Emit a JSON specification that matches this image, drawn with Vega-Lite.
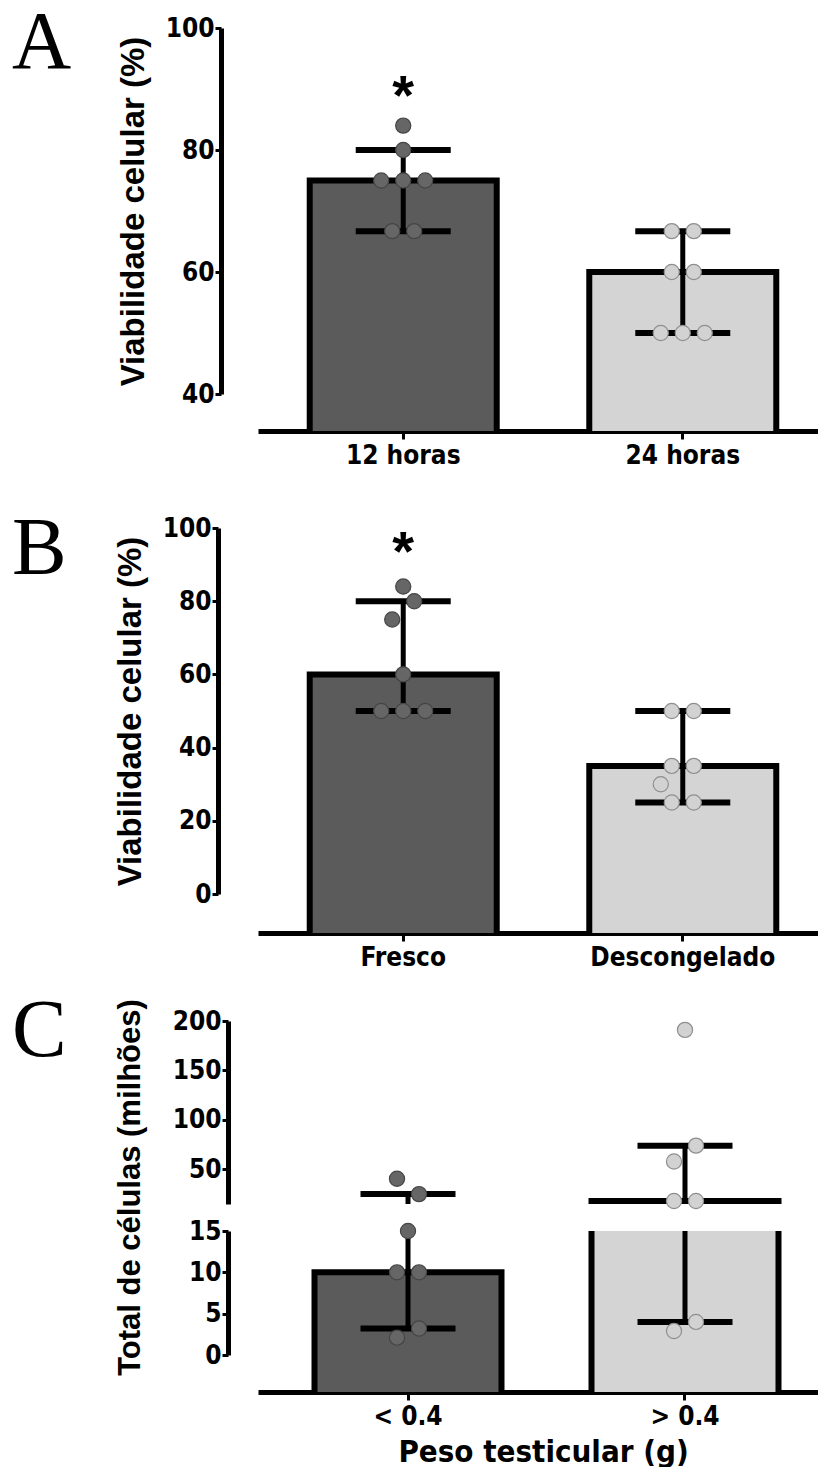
{
  "$schema": "https://vega.github.io/schema/vega-lite/v6.json",
  "background": "white",
  "padding": {"left": 12, "top": 2, "right": 0, "bottom": 0},
  "datasets": {
    "barsA": [
      {"group": "12 horas", "mean": 75, "lo": 66.7, "hi": 80},
      {"group": "24 horas", "mean": 60, "lo": 50, "hi": 66.7}
    ],
    "ptsA": [
      {"group": "12 horas", "value": 84, "slot": 0},
      {"group": "12 horas", "value": 80, "slot": 0},
      {"group": "12 horas", "value": 75, "slot": -1},
      {"group": "12 horas", "value": 75, "slot": 0},
      {"group": "12 horas", "value": 75, "slot": 1},
      {"group": "12 horas", "value": 66.7, "slot": -0.5},
      {"group": "12 horas", "value": 66.7, "slot": 0.5},
      {"group": "24 horas", "value": 66.7, "slot": -0.5},
      {"group": "24 horas", "value": 66.7, "slot": 0.5},
      {"group": "24 horas", "value": 60, "slot": -0.5},
      {"group": "24 horas", "value": 60, "slot": 0.5},
      {"group": "24 horas", "value": 50, "slot": -1},
      {"group": "24 horas", "value": 50, "slot": 0},
      {"group": "24 horas", "value": 50, "slot": 1}
    ],
    "starsA": [{"group": "12 horas", "value": 91, "label": "*"}],
    "barsB": [
      {"group": "Fresco", "mean": 60, "lo": 50, "hi": 80},
      {"group": "Descongelado", "mean": 35, "lo": 25, "hi": 50}
    ],
    "ptsB": [
      {"group": "Fresco", "value": 84, "slot": 0},
      {"group": "Fresco", "value": 80, "slot": 0.5},
      {"group": "Fresco", "value": 75, "slot": -0.5},
      {"group": "Fresco", "value": 60, "slot": 0},
      {"group": "Fresco", "value": 50, "slot": -1},
      {"group": "Fresco", "value": 50, "slot": 0},
      {"group": "Fresco", "value": 50, "slot": 1},
      {"group": "Descongelado", "value": 50, "slot": -0.5},
      {"group": "Descongelado", "value": 50, "slot": 0.5},
      {"group": "Descongelado", "value": 35, "slot": -0.5},
      {"group": "Descongelado", "value": 35, "slot": 0.5},
      {"group": "Descongelado", "value": 30, "slot": -1},
      {"group": "Descongelado", "value": 25, "slot": -0.5},
      {"group": "Descongelado", "value": 25, "slot": 0.5}
    ],
    "starsB": [{"group": "Fresco", "value": 97, "label": "*"}],
    "barsC": [
      {"group": "< 0.4", "mean": 10, "lo": 3.2, "hi": 25},
      {"group": "> 0.4", "mean": 18, "lo": 4, "hi": 74}
    ],
    "ptsC": [
      {"group": "< 0.4", "value": 40.5, "slot": -0.5},
      {"group": "< 0.4", "value": 25, "slot": 0.5},
      {"group": "< 0.4", "value": 15, "slot": 0},
      {"group": "< 0.4", "value": 10, "slot": -0.5},
      {"group": "< 0.4", "value": 10, "slot": 0.5},
      {"group": "< 0.4", "value": 3.2, "slot": 0.5},
      {"group": "< 0.4", "value": 2.1, "slot": -0.5},
      {"group": "> 0.4", "value": 191, "slot": 0},
      {"group": "> 0.4", "value": 74, "slot": 0.5},
      {"group": "> 0.4", "value": 58, "slot": -0.5},
      {"group": "> 0.4", "value": 18, "slot": -0.5},
      {"group": "> 0.4", "value": 18, "slot": 0.5},
      {"group": "> 0.4", "value": 4, "slot": 0.5},
      {"group": "> 0.4", "value": 2.9, "slot": -0.5}
    ]
  },
  "config": {
    "view": {"stroke": null},
    "axis": {
      "grid": false,
      "domainColor": "black",
      "tickColor": "black",
      "labelColor": "black",
      "titleColor": "black",
      "labelFont": "DejaVu Sans Condensed, Liberation Sans, sans-serif",
      "labelFontSize": 26,
      "labelFontWeight": "bold",
      "labelLimit": 400,
      "titleFont": "Liberation Sans, sans-serif",
      "titleFontWeight": "bold",
      "titleFontSize": 33,
      "titleLimit": 600
    },
    "axisY": {"domainWidth": 5, "tickWidth": 3, "tickSize": 6, "labelPadding": 1, "titlePadding": 15},
    "axisX": {"domainWidth": 5, "tickWidth": 3, "tickSize": 8, "labelPadding": 3, "labelAngle": 0},
    "title": {"font": "Liberation Serif, serif", "fontSize": 82, "fontWeight": "normal", "color": "black", "anchor": "start", "frame": "group", "baseline": "alphabetic", "offset": 0, "dx": -246}
  },
  "vconcat": [
    {
      "width": 570,
      "height": 403,
      "title": {"text": "A", "dy": 74},
      "layer": [
        {
          "data": {"name": "barsA"},
          "mark": {"type": "bar", "stroke": "black", "strokeWidth": 6, "clip": true, "width": 187},
          "encoding": {
            "x": {"field": "group", "type": "nominal", "sort": null, "scale": {"paddingInner": 0.331, "paddingOuter": 0.185, "align": 0.5}, "axis": {"title": null}},
            "y": {"field": "mean", "type": "quantitative", "scale": {"domain": [40, 100], "range": [366, 0], "nice": false, "zero": false}, "axis": {"values": [40, 60, 80, 100], "title": "Viabilidade celular (%)", "offset": 37}},
            "y2": {"datum": 30},
            "fill": {"field": "group", "type": "nominal", "sort": null, "scale": {"range": ["#5b5b5b", "#d4d4d4"]}, "legend": null}
          }
        },
        {
          "data": {"name": "barsA"},
          "mark": {"type": "rule", "strokeWidth": 5, "color": "black", "clip": true},
          "encoding": {"x": {"field": "group", "type": "nominal", "sort": null}, "y": {"field": "lo", "type": "quantitative"}, "y2": {"field": "hi"}}
        },
        {
          "data": {"name": "barsA"},
          "mark": {"type": "tick", "size": 95, "thickness": 6, "color": "black", "opacity": 1, "clip": true},
          "encoding": {"x": {"field": "group", "type": "nominal", "sort": null}, "y": {"field": "lo", "type": "quantitative"}}
        },
        {
          "data": {"name": "barsA"},
          "mark": {"type": "tick", "size": 95, "thickness": 6, "color": "black", "opacity": 1, "clip": true},
          "encoding": {"x": {"field": "group", "type": "nominal", "sort": null}, "y": {"field": "hi", "type": "quantitative"}}
        },
        {
          "data": {"name": "ptsA"},
          "mark": {"type": "circle", "size": 230, "opacity": 1, "strokeWidth": 1.2},
          "encoding": {
            "x": {"field": "group", "type": "nominal", "sort": null},
            "xOffset": {"field": "slot", "type": "quantitative", "scale": {"domain": [-4.25, 4.25]}},
            "y": {"field": "value", "type": "quantitative"},
            "color": {"field": "group", "type": "nominal", "sort": null, "scale": {"range": ["#666666", "#d2d2d2"]}, "legend": null},
            "stroke": {"field": "group", "type": "nominal", "sort": null, "scale": {"range": ["#454545", "#8e8e8e"]}, "legend": null}
          }
        },
        {
          "data": {"name": "starsA"},
          "mark": {"type": "text", "fontSize": 56, "fontWeight": "bold", "font": "Liberation Sans, sans-serif", "baseline": "middle", "dy": 14, "color": "black"},
          "encoding": {"x": {"field": "group", "type": "nominal", "sort": null}, "y": {"field": "value", "type": "quantitative"}, "text": {"field": "label"}}
        }
      ]
    },
    {
      "width": 570,
      "height": 475,
      "title": {"text": "B", "dy": 137},
      "layer": [
        {
          "data": {"name": "barsB"},
          "mark": {"type": "bar", "stroke": "black", "strokeWidth": 6, "clip": true, "width": 187},
          "encoding": {
            "x": {"field": "group", "type": "nominal", "sort": null, "scale": {"paddingInner": 0.331, "paddingOuter": 0.185, "align": 0.5}, "axis": {"title": null}},
            "y": {"field": "mean", "type": "quantitative", "scale": {"domain": [0, 100], "range": [436, 70], "nice": false, "zero": false}, "axis": {"values": [0, 20, 40, 60, 80, 100], "title": "Viabilidade celular (%)", "offset": 40}},
            "y2": {"datum": -12},
            "fill": {"field": "group", "type": "nominal", "sort": null, "scale": {"range": ["#5b5b5b", "#d4d4d4"]}, "legend": null}
          }
        },
        {
          "data": {"name": "barsB"},
          "mark": {"type": "rule", "strokeWidth": 5, "color": "black", "clip": true},
          "encoding": {"x": {"field": "group", "type": "nominal", "sort": null}, "y": {"field": "lo", "type": "quantitative"}, "y2": {"field": "hi"}}
        },
        {
          "data": {"name": "barsB"},
          "mark": {"type": "tick", "size": 95, "thickness": 6, "color": "black", "opacity": 1, "clip": true},
          "encoding": {"x": {"field": "group", "type": "nominal", "sort": null}, "y": {"field": "lo", "type": "quantitative"}}
        },
        {
          "data": {"name": "barsB"},
          "mark": {"type": "tick", "size": 95, "thickness": 6, "color": "black", "opacity": 1, "clip": true},
          "encoding": {"x": {"field": "group", "type": "nominal", "sort": null}, "y": {"field": "hi", "type": "quantitative"}}
        },
        {
          "data": {"name": "ptsB"},
          "mark": {"type": "circle", "size": 230, "opacity": 1, "strokeWidth": 1.2},
          "encoding": {
            "x": {"field": "group", "type": "nominal", "sort": null},
            "xOffset": {"field": "slot", "type": "quantitative", "scale": {"domain": [-4.25, 4.25]}},
            "y": {"field": "value", "type": "quantitative"},
            "color": {"field": "group", "type": "nominal", "sort": null, "scale": {"range": ["#666666", "#d2d2d2"]}, "legend": null},
            "stroke": {"field": "group", "type": "nominal", "sort": null, "scale": {"range": ["#454545", "#8e8e8e"]}, "legend": null}
          }
        },
        {
          "data": {"name": "starsB"},
          "mark": {"type": "text", "fontSize": 56, "fontWeight": "bold", "font": "Liberation Sans, sans-serif", "baseline": "middle", "dy": 14, "color": "black"},
          "encoding": {"x": {"field": "group", "type": "nominal", "sort": null}, "y": {"field": "value", "type": "quantitative"}, "text": {"field": "label"}}
        }
      ]
    },
    {
      "width": 570,
      "height": 244,
      "title": {"text": "C", "dy": 117},
      "layer": [
        {
          "data": {"name": "barsC"},
          "mark": {"type": "bar", "stroke": "black", "strokeWidth": 6, "clip": true, "width": 187},
          "encoding": {
            "x": {"field": "group", "type": "nominal", "sort": null, "scale": {"paddingInner": 0.325, "paddingOuter": 0.1914, "align": 0.533}, "axis": null},
            "y": {"field": "mean", "type": "quantitative", "scale": {"domain": [15, 200], "range": [244, 61], "nice": false, "zero": false}, "axis": {"values": [50, 100, 150, 200], "title": null, "offset": 30}},
            "y2": {"datum": 0},
            "fill": {"field": "group", "type": "nominal", "sort": null, "scale": {"range": ["#5b5b5b", "#d4d4d4"]}, "legend": null}
          }
        },
        {
          "data": {"name": "barsC"},
          "mark": {"type": "rule", "strokeWidth": 5, "color": "black", "clip": true},
          "encoding": {"x": {"field": "group", "type": "nominal", "sort": null}, "y": {"field": "lo", "type": "quantitative"}, "y2": {"field": "hi"}}
        },
        {
          "data": {"name": "barsC"},
          "mark": {"type": "tick", "size": 95, "thickness": 6, "color": "black", "opacity": 1, "clip": true},
          "encoding": {"x": {"field": "group", "type": "nominal", "sort": null}, "y": {"field": "hi", "type": "quantitative"}}
        },
        {
          "data": {"name": "ptsC"},
          "transform": [{"filter": "datum.value > 15"}],
          "mark": {"type": "circle", "size": 230, "opacity": 1, "strokeWidth": 1.2},
          "encoding": {
            "x": {"field": "group", "type": "nominal", "sort": null},
            "xOffset": {"field": "slot", "type": "quantitative", "scale": {"domain": [-4.25, 4.25]}},
            "y": {"field": "value", "type": "quantitative"},
            "color": {"field": "group", "type": "nominal", "sort": null, "scale": {"domain": ["< 0.4", "> 0.4"], "range": ["#666666", "#d2d2d2"]}, "legend": null},
            "stroke": {"field": "group", "type": "nominal", "sort": null, "scale": {"domain": ["< 0.4", "> 0.4"], "range": ["#454545", "#8e8e8e"]}, "legend": null}
          }
        }
      ]
    },
    {
      "width": 570,
      "height": 161,
      "layer": [
        {
          "data": {"name": "barsC"},
          "mark": {"type": "bar", "stroke": "black", "strokeWidth": 6, "clip": true, "width": 187},
          "encoding": {
            "x": {"field": "group", "type": "nominal", "sort": null, "scale": {"paddingInner": 0.325, "paddingOuter": 0.1914, "align": 0.533}, "axis": {"title": "Peso testicular (g)", "titleFont": "DejaVu Sans Condensed, Liberation Sans, sans-serif", "titleFontSize": 31, "titlePadding": 8}},
            "y": {"field": "mean", "type": "quantitative", "scale": {"domain": [0, 15], "range": [124, 0], "nice": false, "zero": false}, "axis": {"values": [0, 5, 10, 15], "title": "Total de células (milhões)", "titleFontSize": 31, "titleY": -44, "titlePadding": 42, "offset": 30}},
            "y2": {"datum": -6},
            "fill": {"field": "group", "type": "nominal", "sort": null, "scale": {"range": ["#5b5b5b", "#d4d4d4"]}, "legend": null}
          }
        },
        {
          "data": {"name": "barsC"},
          "mark": {"type": "rule", "strokeWidth": 5, "color": "black", "clip": true},
          "encoding": {"x": {"field": "group", "type": "nominal", "sort": null}, "y": {"field": "lo", "type": "quantitative"}, "y2": {"field": "hi"}}
        },
        {
          "data": {"name": "barsC"},
          "mark": {"type": "tick", "size": 95, "thickness": 6, "color": "black", "opacity": 1, "clip": true},
          "encoding": {"x": {"field": "group", "type": "nominal", "sort": null}, "y": {"field": "lo", "type": "quantitative"}}
        },
        {
          "data": {"name": "ptsC"},
          "transform": [{"filter": "datum.value <= 15"}],
          "mark": {"type": "circle", "size": 230, "opacity": 1, "strokeWidth": 1.2},
          "encoding": {
            "x": {"field": "group", "type": "nominal", "sort": null},
            "xOffset": {"field": "slot", "type": "quantitative", "scale": {"domain": [-4.25, 4.25]}},
            "y": {"field": "value", "type": "quantitative"},
            "color": {"field": "group", "type": "nominal", "sort": null, "scale": {"domain": ["< 0.4", "> 0.4"], "range": ["#666666", "#d2d2d2"]}, "legend": null},
            "stroke": {"field": "group", "type": "nominal", "sort": null, "scale": {"domain": ["< 0.4", "> 0.4"], "range": ["#454545", "#8e8e8e"]}, "legend": null}
          }
        }
      ]
    }
  ],
  "spacing": 27,
  "bounds": "flush",
  "resolve": {"scale": {"x": "independent", "y": "independent", "fill": "independent", "color": "independent", "stroke": "independent", "xOffset": "independent"}}
}
